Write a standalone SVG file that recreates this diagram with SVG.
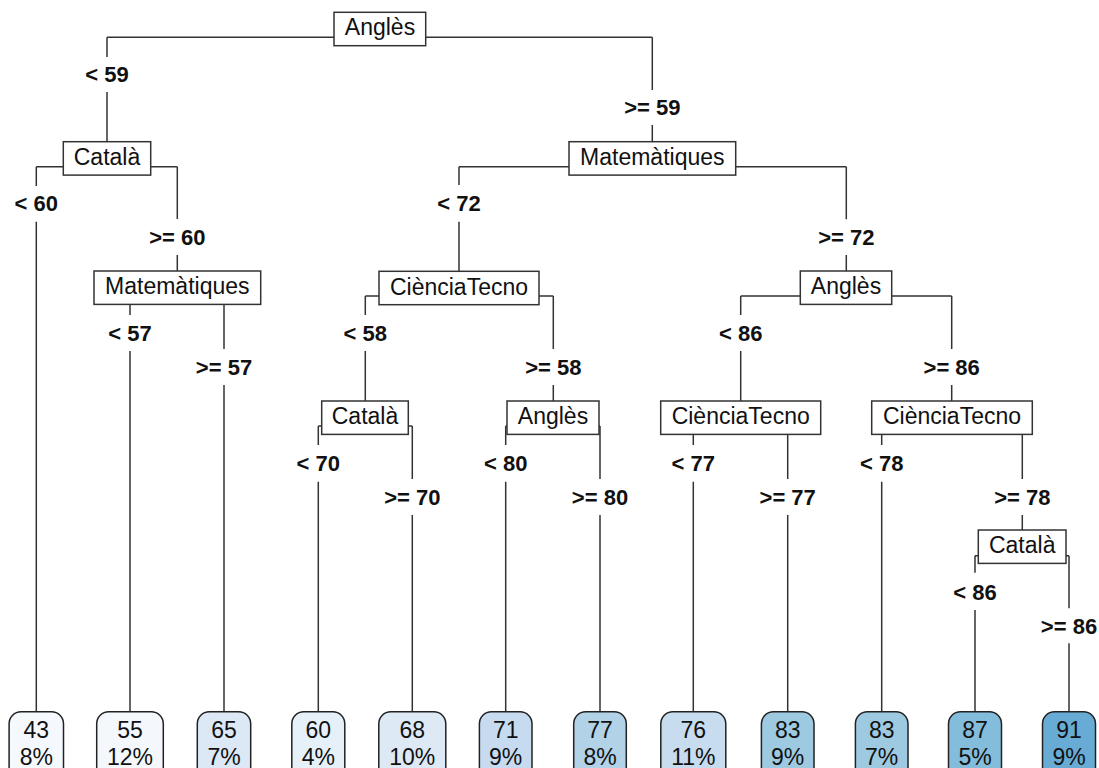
<svg xmlns="http://www.w3.org/2000/svg" width="1099" height="768" viewBox="0 0 1099 768">
<style>
.bg{fill:#ffffff}
.edge{fill:none;stroke:#333333;stroke-width:1.5}
.box{fill:#ffffff;stroke:#333333;stroke-width:1.5}
.leaf{stroke:#222222;stroke-width:1.5}
.nt{font-family:"Liberation Sans",Arial,sans-serif;font-size:23px;fill:#111111;text-anchor:middle}
.lt{font-family:"Liberation Sans",Arial,sans-serif;font-size:23px;fill:#111111;text-anchor:middle}
.el{font-family:"Liberation Sans",Arial,sans-serif;font-size:22px;font-weight:bold;fill:#111111;text-anchor:middle}
</style>
<rect class="bg" x="0" y="0" width="1099" height="768"/>
<g id="connectors">
<path class="edge" d="M107 37.3H652.3 M107 37.3V57 M107 92V141.7 M652.3 37.3V90 M652.3 125V141.7"/>
<path class="edge" d="M36.3 166.7H177.3 M36.3 166.7V186 M36.3 221.7V711.8 M177.3 166.7V219 M177.3 255V271"/>
<path class="edge" d="M459 166.7H846.3 M459 166.7V185 M459 221.7V271.7 M846.3 166.7V219.3 M846.3 255V271"/>
<path class="edge" d="M130 296H224 M130 296V315 M130 351V711.8 M224 296V349 M224 385V711.8"/>
<path class="edge" d="M365.3 296H553.3 M365.3 296V315 M365.3 351V401 M553.3 296V349 M553.3 385V401"/>
<path class="edge" d="M740.7 296H951.7 M740.7 296V315 M740.7 351V401 M951.7 296V349 M951.7 385V401"/>
<path class="edge" d="M318.3 426H412.3 M318.3 426V445 M318.3 481.7V711.8 M412.3 426V479 M412.3 515V711.8"/>
<path class="edge" d="M505.7 426H600 M505.7 426V445 M505.7 481.7V711.8 M600 426V479 M600 515V711.8"/>
<path class="edge" d="M693.3 426H787.7 M693.3 426V445 M693.3 481.7V711.8 M787.7 426V479 M787.7 515V711.8"/>
<path class="edge" d="M881.7 426H1022.3 M881.7 426V445 M881.7 481.7V711.8 M1022.3 426V479 M1022.3 515V530"/>
<path class="edge" d="M975 555.7H1069 M975 555.7V572.7 M975 610V711.8 M1069 555.7V608.3 M1069 643.3V711.8"/>
<text class="el" x="107" y="81.5">&lt; 59</text>
<text class="el" x="652.3" y="114.5">&gt;= 59</text>
<text class="el" x="36.3" y="211">&lt; 60</text>
<text class="el" x="177.3" y="244.5">&gt;= 60</text>
<text class="el" x="459" y="211">&lt; 72</text>
<text class="el" x="846.3" y="244.5">&gt;= 72</text>
<text class="el" x="130" y="340.5">&lt; 57</text>
<text class="el" x="224" y="374.5">&gt;= 57</text>
<text class="el" x="365.3" y="340.5">&lt; 58</text>
<text class="el" x="553.3" y="374.5">&gt;= 58</text>
<text class="el" x="740.7" y="340.5">&lt; 86</text>
<text class="el" x="951.7" y="374.5">&gt;= 86</text>
<text class="el" x="318.3" y="470.5">&lt; 70</text>
<text class="el" x="412.3" y="504.5">&gt;= 70</text>
<text class="el" x="505.7" y="470.5">&lt; 80</text>
<text class="el" x="600" y="504.5">&gt;= 80</text>
<text class="el" x="693.3" y="470.5">&lt; 77</text>
<text class="el" x="787.7" y="504.5">&gt;= 77</text>
<text class="el" x="881.7" y="470.5">&lt; 78</text>
<text class="el" x="1022.3" y="504.5">&gt;= 78</text>
<text class="el" x="975" y="599.5">&lt; 86</text>
<text class="el" x="1069" y="633.5">&gt;= 86</text>
</g>
<g id="n1"><rect class="box" x="334" y="12.3" width="91.7" height="33.4"/><text class="nt" x="380" y="35.3">Anglès</text></g>
<g id="n2"><rect class="box" x="63.3" y="141.7" width="87.4" height="33.4"/><text class="nt" x="107" y="164.7">Català</text></g>
<g id="n3"><rect class="box" x="569" y="141.7" width="166.7" height="33.4"/><text class="nt" x="652.3" y="164.7">Matemàtiques</text></g>
<g id="n5"><rect class="box" x="94" y="271" width="166.7" height="33.4"/><text class="nt" x="177.3" y="294.3">Matemàtiques</text></g>
<g id="n6"><rect class="box" x="379" y="271.3" width="160" height="33.4"/><text class="nt" x="459" y="294.5">CiènciaTecno</text></g>
<g id="n7"><rect class="box" x="800.3" y="271" width="91.4" height="33.4"/><text class="nt" x="846" y="294.3">Anglès</text></g>
<g id="n12"><rect class="box" x="321.7" y="401" width="86.6" height="33.4"/><text class="nt" x="365" y="424.3">Català</text></g>
<g id="n13"><rect class="box" x="507" y="401" width="92" height="33.4"/><text class="nt" x="553" y="424.3">Anglès</text></g>
<g id="n14"><rect class="box" x="660.7" y="401" width="160" height="33.4"/><text class="nt" x="740.7" y="424.3">CiènciaTecno</text></g>
<g id="n15"><rect class="box" x="871.7" y="401" width="160.6" height="33.4"/><text class="nt" x="952" y="424.3">CiènciaTecno</text></g>
<g id="n31"><rect class="box" x="978.3" y="530" width="87.7" height="33.4"/><text class="nt" x="1022.2" y="553.3">Català</text></g>
<g id="leaf1"><rect class="leaf" x="9.1" y="711.8" width="54.4" height="70" rx="12" fill="#f5f9fe"/><text class="lt" x="36.3" y="737.5">43</text><text class="lt" x="36.3" y="765">8%</text></g>
<g id="leaf2"><rect class="leaf" x="96.7" y="711.8" width="66.6" height="70" rx="12" fill="#f4f8fd"/><text class="lt" x="130" y="737.5">55</text><text class="lt" x="130" y="765">12%</text></g>
<g id="leaf3"><rect class="leaf" x="197.3" y="711.8" width="53.4" height="70" rx="12" fill="#dce8f5"/><text class="lt" x="224" y="737.5">65</text><text class="lt" x="224" y="765">7%</text></g>
<g id="leaf4"><rect class="leaf" x="291.8" y="711.8" width="53" height="70" rx="12" fill="#e6f0f9"/><text class="lt" x="318.3" y="737.5">60</text><text class="lt" x="318.3" y="765">4%</text></g>
<g id="leaf5"><rect class="leaf" x="378.8" y="711.8" width="67" height="70" rx="12" fill="#dde9f5"/><text class="lt" x="412.3" y="737.5">68</text><text class="lt" x="412.3" y="765">10%</text></g>
<g id="leaf6"><rect class="leaf" x="479.4" y="711.8" width="52.6" height="70" rx="12" fill="#c6dbef"/><text class="lt" x="505.7" y="737.5">71</text><text class="lt" x="505.7" y="765">9%</text></g>
<g id="leaf7"><rect class="leaf" x="573.7" y="711.8" width="52.6" height="70" rx="12" fill="#b2d2e8"/><text class="lt" x="600" y="737.5">77</text><text class="lt" x="600" y="765">8%</text></g>
<g id="leaf8"><rect class="leaf" x="660.8" y="711.8" width="65" height="70" rx="12" fill="#c7dcef"/><text class="lt" x="693.3" y="737.5">76</text><text class="lt" x="693.3" y="765">11%</text></g>
<g id="leaf9"><rect class="leaf" x="761.4" y="711.8" width="52.6" height="70" rx="12" fill="#9dc9e1"/><text class="lt" x="787.7" y="737.5">83</text><text class="lt" x="787.7" y="765">9%</text></g>
<g id="leaf10"><rect class="leaf" x="855.4" y="711.8" width="52.6" height="70" rx="12" fill="#9dc9e1"/><text class="lt" x="881.7" y="737.5">83</text><text class="lt" x="881.7" y="765">7%</text></g>
<g id="leaf11"><rect class="leaf" x="948.5" y="711.8" width="53" height="70" rx="12" fill="#84bcdb"/><text class="lt" x="975" y="737.5">87</text><text class="lt" x="975" y="765">5%</text></g>
<g id="leaf12"><rect class="leaf" x="1042.5" y="711.8" width="53" height="70" rx="12" fill="#68acd5"/><text class="lt" x="1069" y="737.5">91</text><text class="lt" x="1069" y="765">9%</text></g>
</svg>
